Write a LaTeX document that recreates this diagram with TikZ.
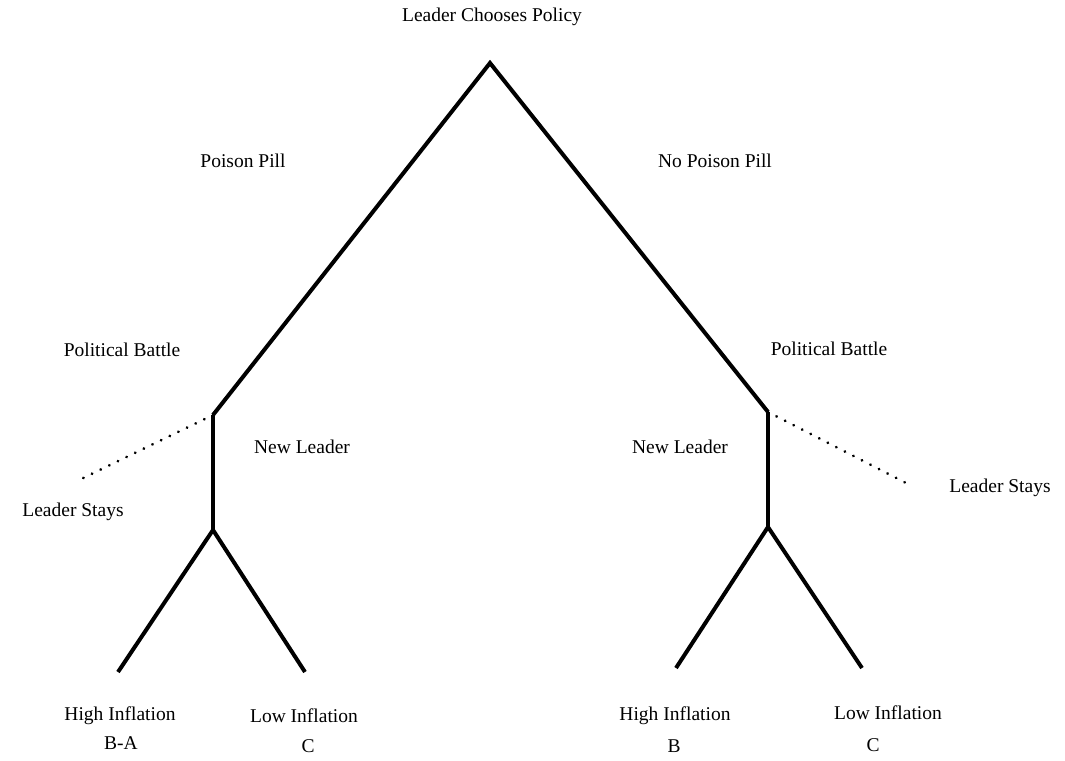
\documentclass[tikz,border=0pt]{standalone}
\usepackage{fontspec}
\setmainfont{Liberation Serif}
\begin{document}
\begin{tikzpicture}[x=1pt,y=-1pt,
  lbl/.style={inner sep=0pt,font=\fontsize{19.5}{22}\selectfont},
  branch/.style={line width=4pt,line cap=butt,line join=miter},
  dots/.style={line width=3pt,line cap=round,dash pattern=on 0.1pt off 9.5pt}]
\useasboundingbox (0,0) rectangle (1065,760);
% coordinates
\coordinate (root) at (490,63);
\coordinate (pbL) at (213,415);
\coordinate (pbR) at (768,412);
\coordinate (nlL) at (213,530);
\coordinate (nlR) at (768,527);
\coordinate (hiL) at (118,672);
\coordinate (loL) at (305,672);
\coordinate (hiR) at (676,668);
\coordinate (loR) at (862,668);
\coordinate (lsL) at (75,482);
\coordinate (lsR) at (908,484);
% branches
\draw[branch] (pbL) -- (root) -- (pbR);
\draw[branch] (pbL) -- (nlL);
\draw[branch] (pbR) -- (nlR);
\draw[branch] (hiL) -- (nlL) -- (loL);
\draw[branch] (hiR) -- (nlR) -- (loR);
\draw[dots] (pbL) -- (lsL);
\draw[dots] (pbR) -- (lsR);
% labels
\node[lbl] (t0) at (492,17) {Leader Chooses Policy};
\node[lbl] (t1) at (243,161) {Poison Pill};
\node[lbl] (t2) at (715,161) {No Poison Pill};
\node[lbl] (t3) at (122,350) {Political Battle};
\node[lbl] (t4) at (829,349) {Political Battle};
\node[lbl] (t5) at (302,447) {New Leader};
\node[lbl] (t6) at (680,447) {New Leader};
\node[lbl] (t7) at (73,512) {Leader Stays};
\node[lbl] (t8) at (1000,488) {Leader Stays};
\node[lbl] (t9) at (120,716) {High Inflation};
\node[lbl] (t10) at (304,716) {Low Inflation};
\node[lbl] (t11) at (675,716) {High Inflation};
\node[lbl] (t12) at (888,713) {Low Inflation};
\node[lbl] (p1) at (121,743) {B-A};
\node[lbl] (p2) at (308,746) {C};
\node[lbl] (p3) at (674,746) {B};
\node[lbl] (p4) at (873,745) {C};
\end{tikzpicture}
\end{document}
